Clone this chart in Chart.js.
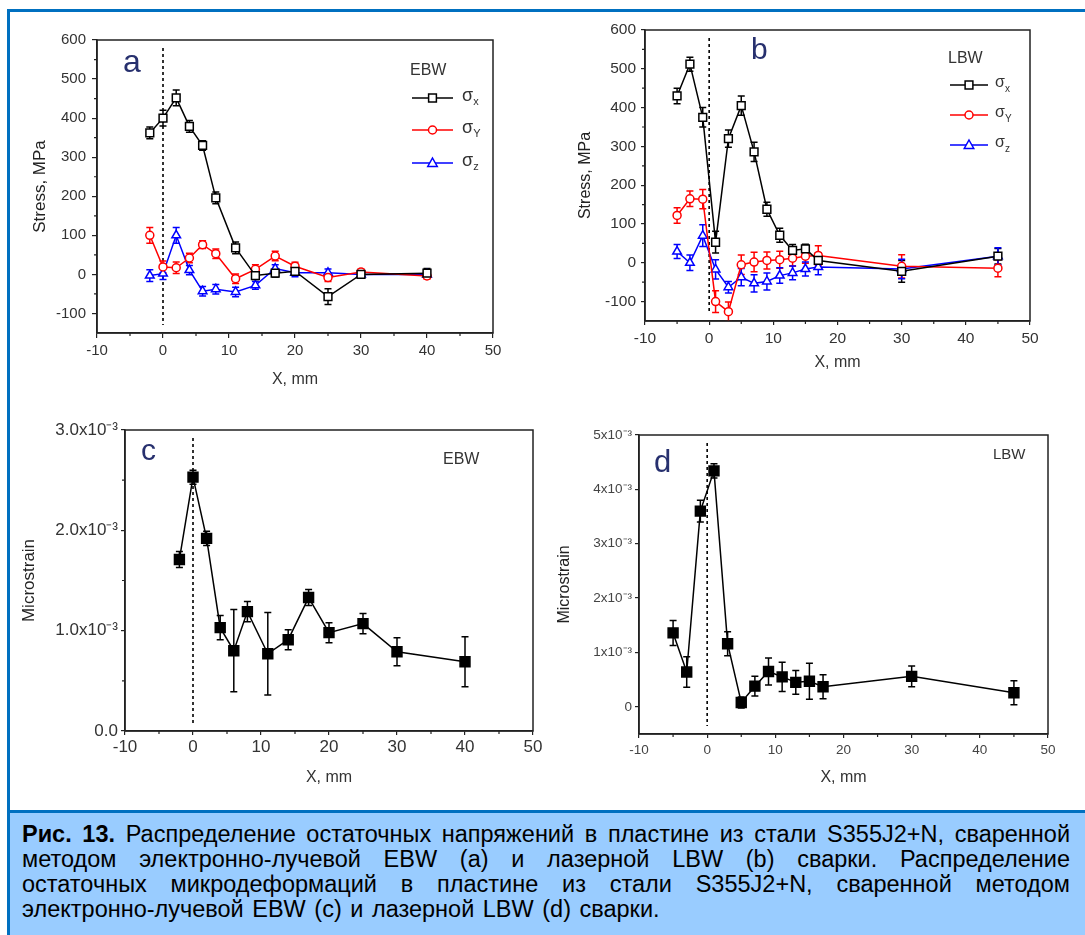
<!DOCTYPE html>
<html>
<head>
<meta charset="utf-8">
<script src="https://cdn.jsdelivr.net/npm/chart.js@4.4.0/dist/chart.umd.min.js"></script>
<style>
  body { margin: 0; width: 1085px; height: 935px; position: relative; background: #fff; overflow: hidden;
         font-family: 'Liberation Sans', Arial, sans-serif; }
  #frame { position: absolute; left: 7px; top: 9px; width: 1100px; height: 1000px;
           border-left: 3px solid #0070c0; border-top: 3px solid #0070c0; }
  #caption { position: absolute; left: 10px; top: 810px; width: 1100px; height: 130px;
             background: #99ccff; border-top: 3px solid #0070c0; }
  #captext { position: absolute; left: 22px; top: 822px; width: 1048px; font-size: 23.5px; line-height: 25px; color: #000; }
  #captext div { text-align: justify; text-align-last: justify; white-space: nowrap; }
  #captext div.last { text-align-last: left; word-spacing: 2px; }
  canvas { position: absolute; }
</style>
</head>
<body>
<div id="frame"></div>
<div id="caption"></div>
<div id="captext">
  <div><b>Рис. 13.</b> Распределение остаточных напряжений в пластине из стали S355J2+N, сваренной</div>
  <div>методом электронно-лучевой EBW (a) и лазерной LBW (b) сварки. Распределение</div>
  <div>остаточных микродеформаций в пластине из стали S355J2+N, сваренной методом</div>
  <div class="last">электронно-лучевой EBW (c) и лазерной LBW (d) сварки.</div>
</div>
<script>
// ---- panel a: EBW stress ----
const xA = [-2, 0, 2, 4, 6, 8, 11, 14, 17, 20, 25, 30, 40];
const sxA = [362, 400, 452, 379, 330, 196, 68, -3, 3, 8, -57, 0, 3];
const sxErrA = [15, 20, 20, 15, 12, 15, 15, 10, 10, 10, 20, 10, 12];
const syA = [100, 19, 17, 42, 76, 53, -11, 13, 47, 21, -8, 6, -4];
const syErrA = [20, 15, 15, 12, 10, 12, 12, 12, 12, 10, 10, 8, 8];
const szA = [-3, 2, 100, 11, -43, -38, -45, -28, 15, 4, 4, 0, 0];
const szErrA = [15, 15, 20, 12, 12, 12, 12, 10, 10, 10, 10, 8, 8];

// ---- panel b: LBW stress ----
const xB = [-5, -3, -1, 1, 3, 5, 7, 9, 11, 13, 15, 17, 30, 45];
const sxB = [430, 512, 375, 53, 320, 405, 286, 138, 71, 32, 36, 6, -22, 17];
const sxErrB = [20, 18, 25, 28, 22, 25, 25, 18, 18, 15, 12, 20, 28, 20];
const syB = [122, 165, 164, -100, -126, -5, 2, 6, 8, 12, 17, 19, -9, -14];
const syErrB = [20, 20, 25, 28, 25, 25, 25, 22, 22, 20, 18, 25, 30, 22];
const szB = [29, 0, 70, -17, -63, -37, -53, -48, -33, -26, -16, -11, -16, 17];
const szErrB = [18, 20, 28, 25, 15, 22, 22, 22, 20, 18, 18, 20, 25, 22];

// ---- panel c: EBW microstrain (units of 10^-3) ----
const xC = [-2, 0, 2, 4, 6, 8, 11, 14, 17, 20, 25, 30, 40];
const strainC = [1.71, 2.53, 1.92, 1.03, 0.80, 1.19, 0.77, 0.91, 1.33, 0.98, 1.07, 0.79, 0.69];
const strainErrC = [0.08, 0.07, 0.07, 0.12, 0.41, 0.10, 0.41, 0.10, 0.08, 0.10, 0.10, 0.14, 0.25];

// ---- panel d: LBW microstrain (units of 10^-3) ----
const xD = [-5, -3, -1, 1, 3, 5, 7, 9, 11, 13, 15, 17, 30, 45];
const strainD = [1.36, 0.64, 3.60, 4.34, 1.16, 0.08, 0.38, 0.65, 0.55, 0.45, 0.47, 0.37, 0.56, 0.26];
const strainErrD = [0.23, 0.28, 0.20, 0.13, 0.22, 0.10, 0.18, 0.25, 0.27, 0.22, 0.33, 0.22, 0.19, 0.22];

// ---- ticks ----
const xTicks = [-10, 0, 10, 20, 30, 40, 50];
const xMinor = [-5, 5, 15, 25, 35, 45];
const stressTicks = [-100, 0, 100, 200, 300, 400, 500, 600];
const stressMinor = [-50, 50, 150, 250, 350, 450, 550];
const strainTicksC = [0, 1, 2, 3];
const strainLabelsC = ['0.0', '1.0x10⁻³', '2.0x10⁻³', '3.0x10⁻³'];
const strainMinorC = [0.5, 1.5, 2.5];
const strainTicksD = [0, 1, 2, 3, 4, 5];
const strainLabelsD = ['0', '1x10⁻³', '2x10⁻³', '3x10⁻³', '4x10⁻³', '5x10⁻³'];

const FONT = "'Liberation Sans', Arial, sans-serif";
Chart.defaults.font.family = FONT;

function pts(xs, ys) { return xs.map((x, i) => ({ x: x, y: ys[i] })); }

function series(xs, ys, errs, color, style, radius, fillColor) {
  return {
    data: pts(xs, ys), errors: errs,
    borderColor: color, borderWidth: 1.5, tension: 0, fill: false,
    pointStyle: style, pointRadius: radius, pointHoverRadius: radius,
    pointBackgroundColor: fillColor, pointBorderColor: color, pointBorderWidth: 1.5
  };
}

function drawMarker(ctx, style, x, y, r, color, fillColor) {
  ctx.save();
  ctx.strokeStyle = color; ctx.fillStyle = fillColor; ctx.lineWidth = 1.5;
  ctx.beginPath();
  if (style === 'rect') {
    const s = r * Math.SQRT1_2;
    ctx.rect(x - s, y - s, 2 * s, 2 * s);
  } else if (style === 'circle') {
    ctx.arc(x, y, r, 0, Math.PI * 2);
  } else {
    const w = r * 0.95;
    ctx.moveTo(x, y - r); ctx.lineTo(x + w, y + r / 2 + 1); ctx.lineTo(x - w, y + r / 2 + 1); ctx.closePath();
  }
  ctx.fill(); ctx.stroke();
  ctx.restore();
}

// extra drawing per chart: frame, minor ticks, x=0 line, error bars, labels, legend
const decor = {
  id: 'decor',
  beforeDatasetsDraw(chart) {
    const p = chart.canvas.$panel;
    if (!p) return;
    const ctx = chart.ctx, ca = chart.chartArea;
    const xs = chart.scales.x, ys = chart.scales.y;
    ctx.save();
    ctx.beginPath(); ctx.rect(ca.left, ca.top, ca.width, ca.height); ctx.clip();
    // dashed weld line
    const x0 = xs.getPixelForValue(0);
    ctx.strokeStyle = '#000'; ctx.lineWidth = 1.6; ctx.setLineDash([3, 3]);
    ctx.beginPath(); ctx.moveTo(x0, ca.top + 8); ctx.lineTo(x0, ca.bottom - 8); ctx.stroke();
    ctx.setLineDash([]);
    // error bars
    chart.data.datasets.forEach((ds, di) => {
      const meta = chart.getDatasetMeta(di);
      ctx.strokeStyle = ds.borderColor; ctx.lineWidth = 1.5;
      ds.data.forEach((d, i) => {
        const e = ds.errors[i];
        const px = meta.data[i].x;
        const yTop = ys.getPixelForValue(d.y + e), yBot = ys.getPixelForValue(d.y - e);
        ctx.beginPath();
        ctx.moveTo(px, yTop); ctx.lineTo(px, yBot);
        ctx.moveTo(px - 3.5, yTop); ctx.lineTo(px + 3.5, yTop);
        ctx.moveTo(px - 3.5, yBot); ctx.lineTo(px + 3.5, yBot);
        ctx.stroke();
      });
    });
    ctx.restore();
  },
  afterDraw(chart) {
    const p = chart.canvas.$panel;
    if (!p) return;
    const ctx = chart.ctx, ca = chart.chartArea;
    const xs = chart.scales.x, ys = chart.scales.y;
    ctx.save();
    ctx.strokeStyle = '#222'; ctx.lineWidth = 1.5;
    ctx.strokeRect(ca.left, ca.top, ca.width, ca.height);
    ctx.lineWidth = 1.2;
    ctx.beginPath();
    xMinor.forEach(v => { const px = xs.getPixelForValue(v); ctx.moveTo(px, ca.bottom); ctx.lineTo(px, ca.bottom + 3); });
    p.yMinor.forEach(v => { const py = ys.getPixelForValue(v); ctx.moveTo(ca.left - 3, py); ctx.lineTo(ca.left, py); });
    ctx.stroke();
    // panel letter
    ctx.fillStyle = '#27306e';
    ctx.font = p.letterSize + 'px ' + FONT;
    ctx.textBaseline = 'middle'; ctx.textAlign = 'left';
    ctx.fillText(p.letter, ca.left + p.letterAt[0], ca.top + p.letterAt[1]);
    // method tag
    ctx.fillStyle = '#333';
    ctx.font = p.tagSize + 'px ' + FONT;
    ctx.fillText(p.tag, ca.left + p.tagAt[0], ca.top + p.tagAt[1]);
    // legend
    if (p.legend) {
      const L = p.legend;
      chart.data.datasets.forEach((ds, i) => {
        const y = ca.top + L.rows[i];
        const xa = ca.left + L.x0, xb = ca.left + L.x1;
        ctx.strokeStyle = ds.borderColor; ctx.lineWidth = 1.5;
        ctx.beginPath(); ctx.moveTo(xa, y); ctx.lineTo(xb, y); ctx.stroke();
        drawMarker(ctx, ds.pointStyle, (xa + xb) / 2, y, ds.pointRadius, ds.borderColor, '#fff');
        ctx.fillStyle = '#333';
        ctx.font = L.size + 'px ' + FONT;
        ctx.fillText('σ', ca.left + L.tx, y - 2);
        ctx.font = Math.round(L.size * 0.62) + 'px ' + FONT;
        ctx.fillText(L.subs[i], ca.left + L.tx + L.size * 0.62, y + 4);
      });
    }
    ctx.restore();
  }
};

function buildChart(p) {
  const cv = document.createElement('canvas');
  cv.width = p.box[2]; cv.height = p.box[3];
  cv.style.left = p.box[0] + 'px'; cv.style.top = p.box[1] + 'px';
  cv.$panel = p;
  document.body.appendChild(cv);
  const yW = p.area[0] - p.box[0];
  const padTop = p.area[1] - p.box[1];
  const padRight = p.box[0] + p.box[2] - p.area[2];
  const padBottom = p.box[1] + p.box[3] - p.area[3] - p.xH;
  return new Chart(cv, {
    type: 'line',
    data: { datasets: p.datasets },
    options: {
      responsive: false, animation: false, events: [],
      layout: { padding: { left: 0, top: padTop, right: padRight, bottom: padBottom } },
      plugins: { legend: { display: false }, tooltip: { enabled: false } },
      scales: {
        x: {
          type: 'linear', min: -10, max: 50,
          afterBuildTicks: s => { s.ticks = xTicks.map(v => ({ value: v })); },
          afterFit: s => { s.height = p.xH; },
          border: { display: true, color: '#222', width: 1.5 },
          grid: { drawOnChartArea: false, drawTicks: true, tickLength: p.tickLen, color: '#222', lineWidth: 1.2 },
          ticks: { color: p.tickColor, font: { size: p.tickSize }, padding: p.xTickPad, maxRotation: 0 },
          title: { display: true, text: 'X, mm', color: '#333', font: { size: 16 }, padding: { top: 0, bottom: 4 } }
        },
        y: {
          type: 'linear', min: p.yMin, max: p.yMax,
          afterBuildTicks: s => { s.ticks = p.yTicks.map(v => ({ value: v })); },
          afterFit: s => { s.width = yW; },
          border: { display: true, color: '#222', width: 1.5 },
          grid: { drawOnChartArea: false, drawTicks: true, tickLength: p.tickLen, color: '#222', lineWidth: 1.2 },
          ticks: { color: p.tickColor, font: { size: p.tickSize }, padding: p.yTickPad,
                   callback: (v, i) => p.yLabels ? p.yLabels[i] : String(v) },
          title: { display: true, text: p.yTitle, color: '#222', font: { size: p.yTitleSize },
                   padding: { top: p.yTitlePad, bottom: 0 } }
        }
      }
    },
    plugins: [decor]
  });
}

buildChart({
  box: [20, 15, 520, 385], area: [97, 40, 493, 333], xH: 60,
  yMin: -150, yMax: 600, yTicks: stressTicks, yMinor: stressMinor,
  tickLen: 5, tickSize: 15, tickColor: '#333', xTickPad: 4, yTickPad: 6,
  yTitle: 'Stress, MPa', yTitleSize: 17, yTitlePad: 10,
  letter: 'a', letterSize: 32, letterAt: [26, 23], tag: 'EBW', tagSize: 16, tagAt: [313, 31],
  legend: { x0: 315, x1: 356, tx: 365, rows: [58, 90, 123], size: 18, subs: ['x', 'Y', 'z'] },
  datasets: [
    series(xA, sxA, sxErrA, '#000000', 'rect', 5.5, '#fff'),
    series(xA, syA, syErrA, '#ff0000', 'circle', 4, '#fff'),
    series(xA, szA, szErrA, '#0000ff', 'triangle', 5, '#fff')
  ]
});

buildChart({
  box: [560, 12, 520, 388], area: [645, 30, 1030, 321], xH: 55,
  yMin: -150, yMax: 600, yTicks: stressTicks, yMinor: stressMinor,
  tickLen: 4, tickSize: 15.5, tickColor: '#333', xTickPad: 4, yTickPad: 5,
  yTitle: 'Stress, MPa', yTitleSize: 16, yTitlePad: 16,
  letter: 'b', letterSize: 30, letterAt: [106, 21], tag: 'LBW', tagSize: 16, tagAt: [303, 29],
  legend: { x0: 305, x1: 343, tx: 350, rows: [55, 85, 115], size: 16, subs: ['x', 'Y', 'z'] },
  datasets: [
    series(xB, sxB, sxErrB, '#000000', 'rect', 5.5, '#fff'),
    series(xB, syB, syErrB, '#ff0000', 'circle', 4, '#fff'),
    series(xB, szB, szErrB, '#0000ff', 'triangle', 5, '#fff')
  ]
});

buildChart({
  box: [15, 410, 545, 390], area: [125, 430, 533, 731], xH: 60,
  yMin: 0, yMax: 3, yTicks: strainTicksC, yLabels: strainLabelsC, yMinor: strainMinorC,
  tickLen: 4, tickSize: 17, tickColor: '#333', xTickPad: 2, yTickPad: 3,
  yTitle: 'Microstrain', yTitleSize: 17, yTitlePad: 4,
  letter: 'c', letterSize: 30, letterAt: [16, 22], tag: 'EBW', tagSize: 16, tagAt: [318, 30],
  datasets: [ series(xC, strainC, strainErrC, '#000000', 'rect', 7, '#000') ]
});

buildChart({
  box: [545, 410, 535, 390], area: [639, 435, 1048, 734], xH: 57,
  yMin: -0.5, yMax: 5, yTicks: strainTicksD, yLabels: strainLabelsD, yMinor: [],
  tickLen: 4, tickSize: 13.5, tickColor: '#444', xTickPad: 4, yTickPad: 3,
  yTitle: 'Microstrain', yTitleSize: 16, yTitlePad: 10,
  letter: 'd', letterSize: 31, letterAt: [15, 28], tag: 'LBW', tagSize: 15, tagAt: [354, 20],
  datasets: [ series(xD, strainD, strainErrD, '#000000', 'rect', 7, '#000') ]
});
</script>
</body>
</html>
